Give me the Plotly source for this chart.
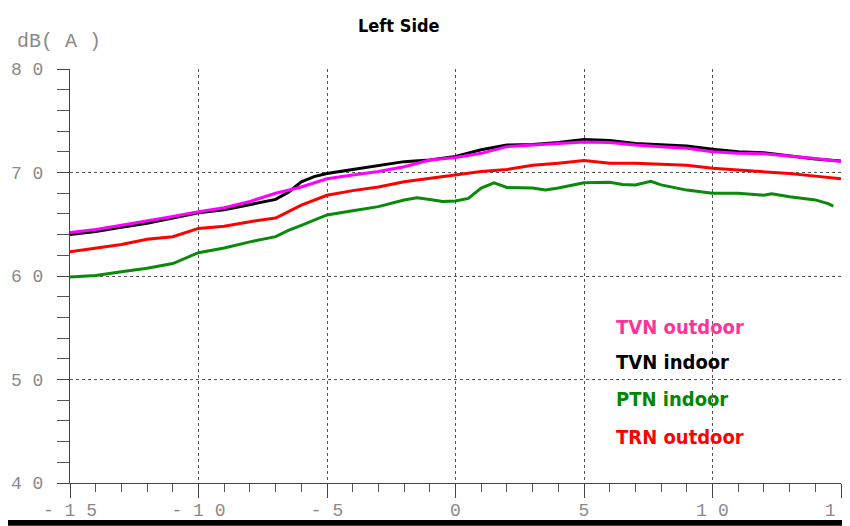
import plotly.graph_objects as go

# ---- data ----
x_tvn_out = [-15, -14, -13, -12, -11, -10, -9, -8, -7, -6, -5, -4, -3, -2, -1, 0,
             1, 2, 3, 4, 5, 6, 7, 8, 9, 10, 11, 12, 13, 14, 15]
y_tvn_out = [64.2, 64.5, 64.9, 65.3, 65.75, 66.2, 66.6, 67.2, 68.0, 68.6, 69.4, 69.75, 70.1, 70.55, 71.2, 71.45,
             71.85, 72.5, 72.65, 72.8, 72.95, 72.9, 72.65, 72.5, 72.35, 72.0, 71.85, 71.8, 71.6, 71.35, 71.05]

x_tvn_in = [-15, -14, -13, -12, -11, -10, -9, -8, -7.4, -7, -6.5, -6, -5.5, -5, -4, -3, -2, -1, 0,
            1, 2, 3, 4, 5, 6, 7, 8, 9, 10, 11, 12, 13, 14, 15]
y_tvn_in = [64.0, 64.3, 64.7, 65.1, 65.6, 66.1, 66.4, 66.9, 67.2, 67.4, 68.1, 69.1, 69.6, 69.9, 70.3, 70.7, 71.05, 71.2, 71.55,
            72.2, 72.65, 72.7, 72.9, 73.2, 73.1, 72.8, 72.7, 72.55, 72.25, 72.0, 71.9, 71.6, 71.3, 71.1]

x_ptn_in = [-15, -14, -13, -12, -11, -10, -9, -8, -7, -6.5, -6, -5, -4, -3, -2, -1.5, -1, -0.5, 0, 0.5,
            1, 1.5, 2, 3, 3.5, 4, 5, 6, 6.5, 7, 7.6, 8, 9, 10, 11, 12, 12.3, 13, 14, 14.5, 14.7]
y_ptn_in = [59.9, 60.05, 60.4, 60.75, 61.2, 62.25, 62.7, 63.3, 63.8, 64.4, 64.9, 65.9, 66.3, 66.7, 67.35, 67.55, 67.4, 67.2, 67.25, 67.5,
            68.5, 69.0, 68.55, 68.5, 68.3, 68.5, 69.0, 69.05, 68.85, 68.8, 69.15, 68.8, 68.3, 68.0, 68.0, 67.8, 67.95, 67.65, 67.35, 67.0, 66.75]

x_trn_out = [-15, -14, -13, -12, -11, -10, -9, -8, -7, -6, -5, -4, -3, -2, -1, 0,
             1, 2, 3, 4, 5, 6, 7, 8, 9, 10, 11, 12, 13, 14, 15]
y_trn_out = [62.35, 62.7, 63.05, 63.55, 63.8, 64.6, 64.8, 65.25, 65.6, 66.85, 67.8, 68.25, 68.6, 69.1, 69.45, 69.8,
             70.1, 70.3, 70.7, 70.9, 71.15, 70.9, 70.9, 70.8, 70.7, 70.4, 70.25, 70.1, 69.9, 69.65, 69.4]

x_tickvals = [-15, -10, -5, 0, 5, 10, 15]
x_ticktext = ["- 1 5", "- 1 0", "- 5", "0", "5", "1 0", "1 5"]
y_tickvals = [40, 50, 60, 70, 80]
y_ticktext = ["4 0", "5 0", "6 0", "7 0", "8 0"]

legend_names = ["TVN outdoor", "TVN indoor", "PTN indoor", "TRN outdoor"]
legend_colors = ["#ff3399", "#000000", "#008800", "#ff0000"]

# ---- figure ----
fig = go.Figure()
fig.add_trace(go.Scatter(x=x_ptn_in, y=y_ptn_in, mode="lines", line=dict(color="#0a8a0a", width=3), name="PTN indoor"))
fig.add_trace(go.Scatter(x=x_trn_out, y=y_trn_out, mode="lines", line=dict(color="#ff0000", width=3), name="TRN outdoor"))
fig.add_trace(go.Scatter(x=x_tvn_in, y=y_tvn_in, mode="lines", line=dict(color="#000000", width=3), name="TVN indoor"))
fig.add_trace(go.Scatter(x=x_tvn_out, y=y_tvn_out, mode="lines", line=dict(color="#ff00ff", width=3), name="TVN outdoor"))

tick_font = dict(family="Liberation Mono, DejaVu Sans Mono, monospace", size=18, color="#8a8a8a")
cond_font = "DejaVu Sans Condensed, Liberation Sans Narrow, sans-serif"

fig.update_xaxes(
    range=[-15, 15], tickvals=x_tickvals, ticktext=x_ticktext, tickfont=tick_font,
    showgrid=True, gridcolor="#555555", griddash="dot", gridwidth=1,
    zeroline=False, showline=True, linecolor="#444444", linewidth=1,
    ticks="outside", ticklen=14, tickcolor="#444444", ticklabelstandoff=-4,
    minor=dict(dtick=1, ticks="outside", ticklen=8, tickcolor="#555555", showgrid=False),
)
fig.update_yaxes(
    range=[40, 80], tickvals=y_tickvals, ticktext=y_ticktext, tickfont=tick_font,
    showgrid=True, gridcolor="#555555", griddash="dot", gridwidth=1,
    zeroline=False, showline=True, linecolor="#444444", linewidth=1,
    ticks="outside", ticklen=12, tickcolor="#444444", ticklabelstandoff=10,
    minor=dict(dtick=2, ticks="outside", ticklen=12, tickcolor="#555555", showgrid=False),
)

annotations = [
    dict(text="<b>Left Side</b>", x=0.4267, y=1.104, xref="paper", yref="paper",
         showarrow=False, xanchor="center", yanchor="middle",
         font=dict(family=cond_font, size=18, color="#000000")),
    dict(text="dB( A )", x=-0.0713, y=1.0676, xref="paper", yref="paper",
         showarrow=False, xanchor="left", yanchor="middle",
         font=dict(family=tick_font["family"], size=20, color="#8a8a8a")),
]
leg_y = [0.3768, 0.2923, 0.2029, 0.1111]
for name, col, yy in zip(legend_names, legend_colors, leg_y):
    annotations.append(dict(text="<b>" + name + "</b>", x=0.7056, y=yy, xref="paper", yref="paper",
                            showarrow=False, xanchor="left", yanchor="middle",
                            font=dict(family=cond_font, size=20, color=col)))

fig.update_layout(
    width=850, height=526,
    margin=dict(l=62, r=17, t=61, b=51, autoexpand=False),
    paper_bgcolor="white", plot_bgcolor="white",
    showlegend=False,
    annotations=annotations,
    shapes=[dict(type="rect", xref="paper", yref="paper", x0=-0.2, x1=1.2, y0=-0.1035, y1=-0.0894,
                 fillcolor="black", line=dict(width=0), layer="above")],
)

fig.write_html("out.html")
